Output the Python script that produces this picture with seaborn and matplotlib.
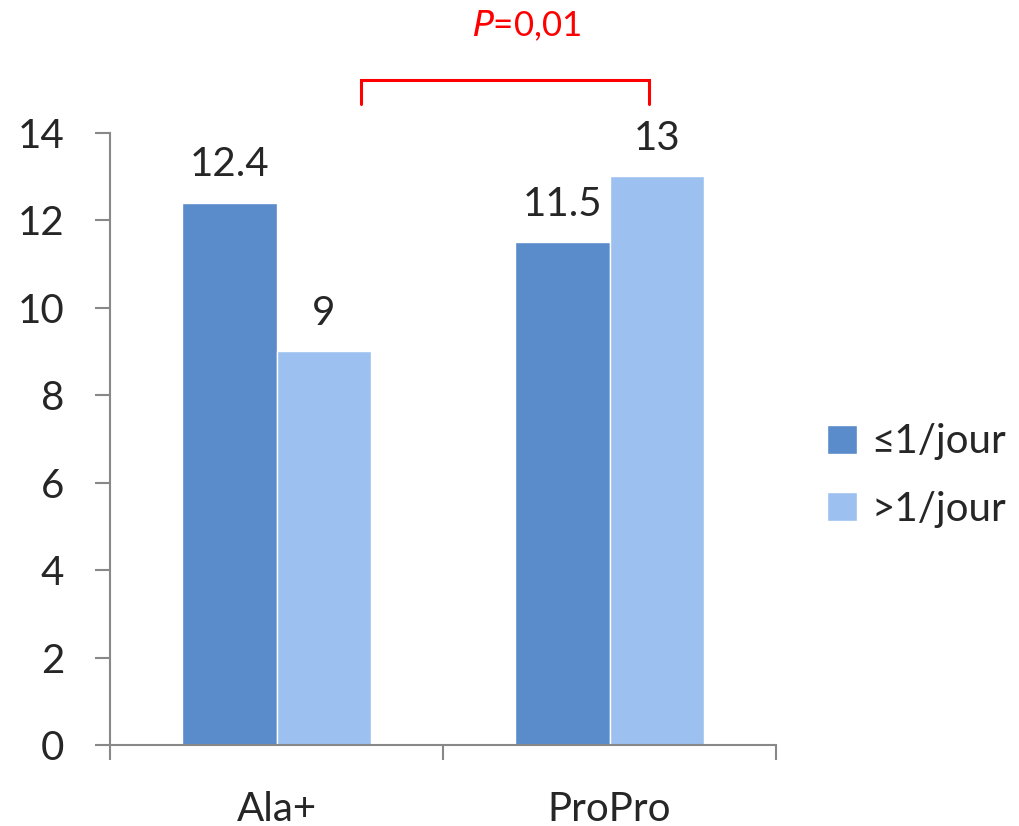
import matplotlib
matplotlib.use("Agg")
import matplotlib.pyplot as plt
import seaborn as sns
import pandas as pd

categories = ["Ala+", "ProPro"]
groups = ["≤1/jour", ">1/jour"]
values_le1 = [12.4, 11.5]
values_gt1 = [9, 13]
y_ticks = [0, 2, 4, 6, 8, 10, 12, 14]
p_label = "=0,01"

sns.set_theme(style="white")
plt.rcParams["font.family"] = ["Lato", "DejaVu Sans"]

df = pd.DataFrame({
    "cat": categories * 2,
    "grp": [groups[0]] * 2 + [groups[1]] * 2,
    "val": values_le1 + values_gt1,
})

colors = ["#5A8BCB", "#9CC0F0"]

fig = plt.figure(figsize=(10.19, 8.26), dpi=100)
ax = fig.add_axes([110 / 1019, 1 - 745 / 826, (776 - 110) / 1019, (745 - 132.7) / 826])

sns.barplot(data=df, x="cat", y="val", hue="grp", palette=colors,
            saturation=1, width=0.57, ax=ax, legend=True)

ax.set_xlim(-0.5, 1.5)
ax.set_ylim(0, 14)
ax.set_yticks(y_ticks)
ax.set_xlabel("")
ax.set_ylabel("")

for side in ["top", "right"]:
    ax.spines[side].set_visible(False)
for side in ["left", "bottom"]:
    ax.spines[side].set_color("#888888")
    ax.spines[side].set_linewidth(1.5)

ax.tick_params(axis="y", direction="out", length=11, width=1.5, color="#888888",
               labelsize=29, pad=22, left=True)
ax.tick_params(axis="x", which="major", length=0, labelsize=29, pad=33)
ax.set_xticks([-0.5, 0.5, 1.5], minor=True)
ax.tick_params(axis="x", which="minor", direction="out", length=11, width=1.5,
               color="#888888", bottom=True)

for container in ax.containers:
    ax.bar_label(container, labels=[f"{v:g}" for v in container.datavalues],
                 fontsize=29, padding=14)

# significance bracket between the two groups
bx0, bx1 = 0.254, 1.118
by_top, by_bot = 15.2, 14.65
ax.plot([bx0, bx0, bx1, bx1], [by_bot, by_top, by_top, by_bot], color="#FF0000",
        lw=2.2, clip_on=False, solid_joinstyle="miter")
ax.text(0.75, 16.2, r"$\it{P}$" + p_label, color="#FF0000", fontsize=25,
        ha="center", va="baseline", clip_on=False)

handles, labels = ax.get_legend_handles_labels()
ax.legend(handles, labels, loc="center left", bbox_to_anchor=(1.022, 0.44),
          frameon=False, fontsize=29, handlelength=0.75, handleheight=0.75,
          handletextpad=0.35, labelspacing=0.75)

fig.savefig("out.png", dpi=100)
